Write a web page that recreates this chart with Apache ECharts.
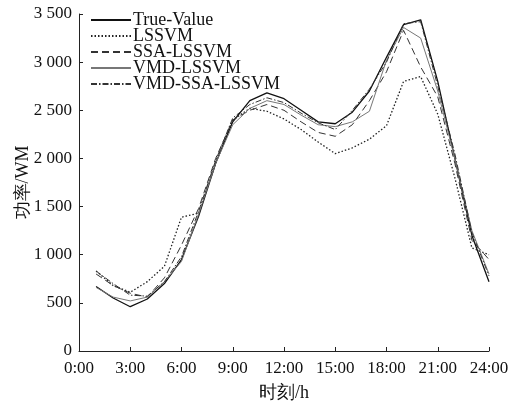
<!DOCTYPE html>
<html lang="zh-CN" style="height: 100%">

<head>
  <meta charset="utf-8">
</head>

<body style="height: 100%; margin: 0; background: #fff">
  <div id="container" style="height: 100%"></div>

  <script type="text/javascript" src="https://cdn.jsdelivr.net/npm/echarts@6/dist/echarts.min.js"></script>

  <script type="text/javascript">
    // hours 1:00 .. 24:00
    var hours = [1, 2, 3, 4, 5, 6, 7, 8, 9, 10, 11, 12, 13, 14, 15, 16, 17, 18, 19, 20, 21, 22, 23, 24];

    var trueValue = [670, 550, 460, 540, 700, 950, 1400, 1950, 2380, 2600, 2680, 2620, 2500, 2380, 2360, 2480, 2700, 3050, 3390, 3440, 2800, 2000, 1200, 720];
    var lssvm = [830, 680, 610, 720, 880, 1390, 1430, 1950, 2400, 2520, 2490, 2410, 2300, 2170, 2050, 2110, 2200, 2340, 2800, 2850, 2460, 1800, 1070, 1000];
    var ssaLssvm = [800, 680, 600, 560, 760, 1100, 1480, 2000, 2400, 2500, 2560, 2500, 2380, 2270, 2230, 2350, 2600, 2900, 3330, 2950, 2640, 1950, 1150, 950];
    var vmdLssvm = [660, 560, 520, 560, 720, 930, 1420, 1950, 2350, 2520, 2600, 2560, 2450, 2350, 2330, 2380, 2490, 3020, 3360, 3250, 2700, 2000, 1250, 800];
    var vmdSsaLssvm = [830, 700, 580, 570, 720, 980, 1450, 1980, 2420, 2560, 2630, 2580, 2470, 2370, 2300, 2500, 2720, 3000, 3400, 3420, 2750, 2050, 1230, 780];

    function pairs(vals) {
      return hours.map(function (h, i) { return [h, vals[i]]; });
    }

    var serif = 'Liberation Serif, Times New Roman, serif';

    var dom = document.getElementById('container');
    var myChart = echarts.init(dom, null, { renderer: 'canvas' });

    var option = {
      animation: false,
      backgroundColor: '#fff',
      grid: { left: 79, right: 30, top: 14, bottom: 50, containLabel: false, outerBoundsMode: 'none' },
      legend: {
        orient: 'vertical',
        left: 85,
        top: 6,
        padding: 5,
        itemWidth: 40,
        itemHeight: 12,
        itemGap: -2,
        itemStyle: { opacity: 0 },
        textStyle: { fontFamily: serif, fontSize: 18, lineHeight: 16, color: '#111', padding: [0, 0, 0, -3] },
        data: ['True-Value', 'LSSVM', 'SSA-LSSVM', 'VMD-LSSVM', 'VMD-SSA-LSSVM']
      },
      xAxis: {
        type: 'value',
        min: 0,
        max: 24,
        interval: 3,
        name: '时刻/h',
        nameLocation: 'middle',
        nameGap: 33,
        nameMoveOverlap: false,
        nameTextStyle: { fontFamily: serif, fontSize: 18, color: '#111' },
        axisLine: { lineStyle: { color: '#222', width: 1 } },
        axisTick: { inside: true, length: 4, lineStyle: { color: '#222' } },
        splitLine: { show: false },
        axisLabel: {
          fontFamily: serif, fontSize: 17, color: '#111', margin: 9,
          formatter: function (v) { return v + ':00'; }
        }
      },
      yAxis: {
        type: 'value',
        min: 0,
        max: 3500,
        interval: 500,
        name: '功率/WM',
        nameLocation: 'middle',
        nameGap: 47,
        nameMoveOverlap: false,
        nameTextStyle: { fontFamily: serif, fontSize: 18, color: '#111' },
        axisLine: { show: true, lineStyle: { color: '#222', width: 1 } },
        axisTick: { show: true, inside: true, length: 4, lineStyle: { color: '#222' } },
        splitLine: { show: false },
        axisLabel: {
          fontFamily: serif, fontSize: 17, color: '#111', margin: 7,
          formatter: function (v) {
            if (v < 1000) return String(v);
            return Math.floor(v / 1000) + ' ' + String(v % 1000).padStart(3, '0');
          }
        }
      },
      series: [
        {
          name: 'True-Value', type: 'line', symbol: 'none', data: pairs(trueValue),
          lineStyle: { color: '#111', width: 1.3, type: 'solid' }, itemStyle: { color: '#111' }
        },
        {
          name: 'LSSVM', type: 'line', symbol: 'none', data: pairs(lssvm),
          lineStyle: { color: '#222', width: 1.3, type: [1.5, 2] }, itemStyle: { color: '#222' }
        },
        {
          name: 'SSA-LSSVM', type: 'line', symbol: 'none', data: pairs(ssaLssvm),
          lineStyle: { color: '#333', width: 1, type: [7, 4] }, itemStyle: { color: '#333' }
        },
        {
          name: 'VMD-LSSVM', type: 'line', symbol: 'none', data: pairs(vmdLssvm),
          lineStyle: { color: '#777', width: 1, type: 'solid' }, itemStyle: { color: '#777' }
        },
        {
          name: 'VMD-SSA-LSSVM', type: 'line', symbol: 'none', data: pairs(vmdSsaLssvm),
          lineStyle: { color: '#333', width: 1, type: [6, 2, 1.5, 2] }, itemStyle: { color: '#333' }
        }
      ]
    };

    myChart.setOption(option);
    window.addEventListener('resize', myChart.resize);
  </script>
</body>

</html>
